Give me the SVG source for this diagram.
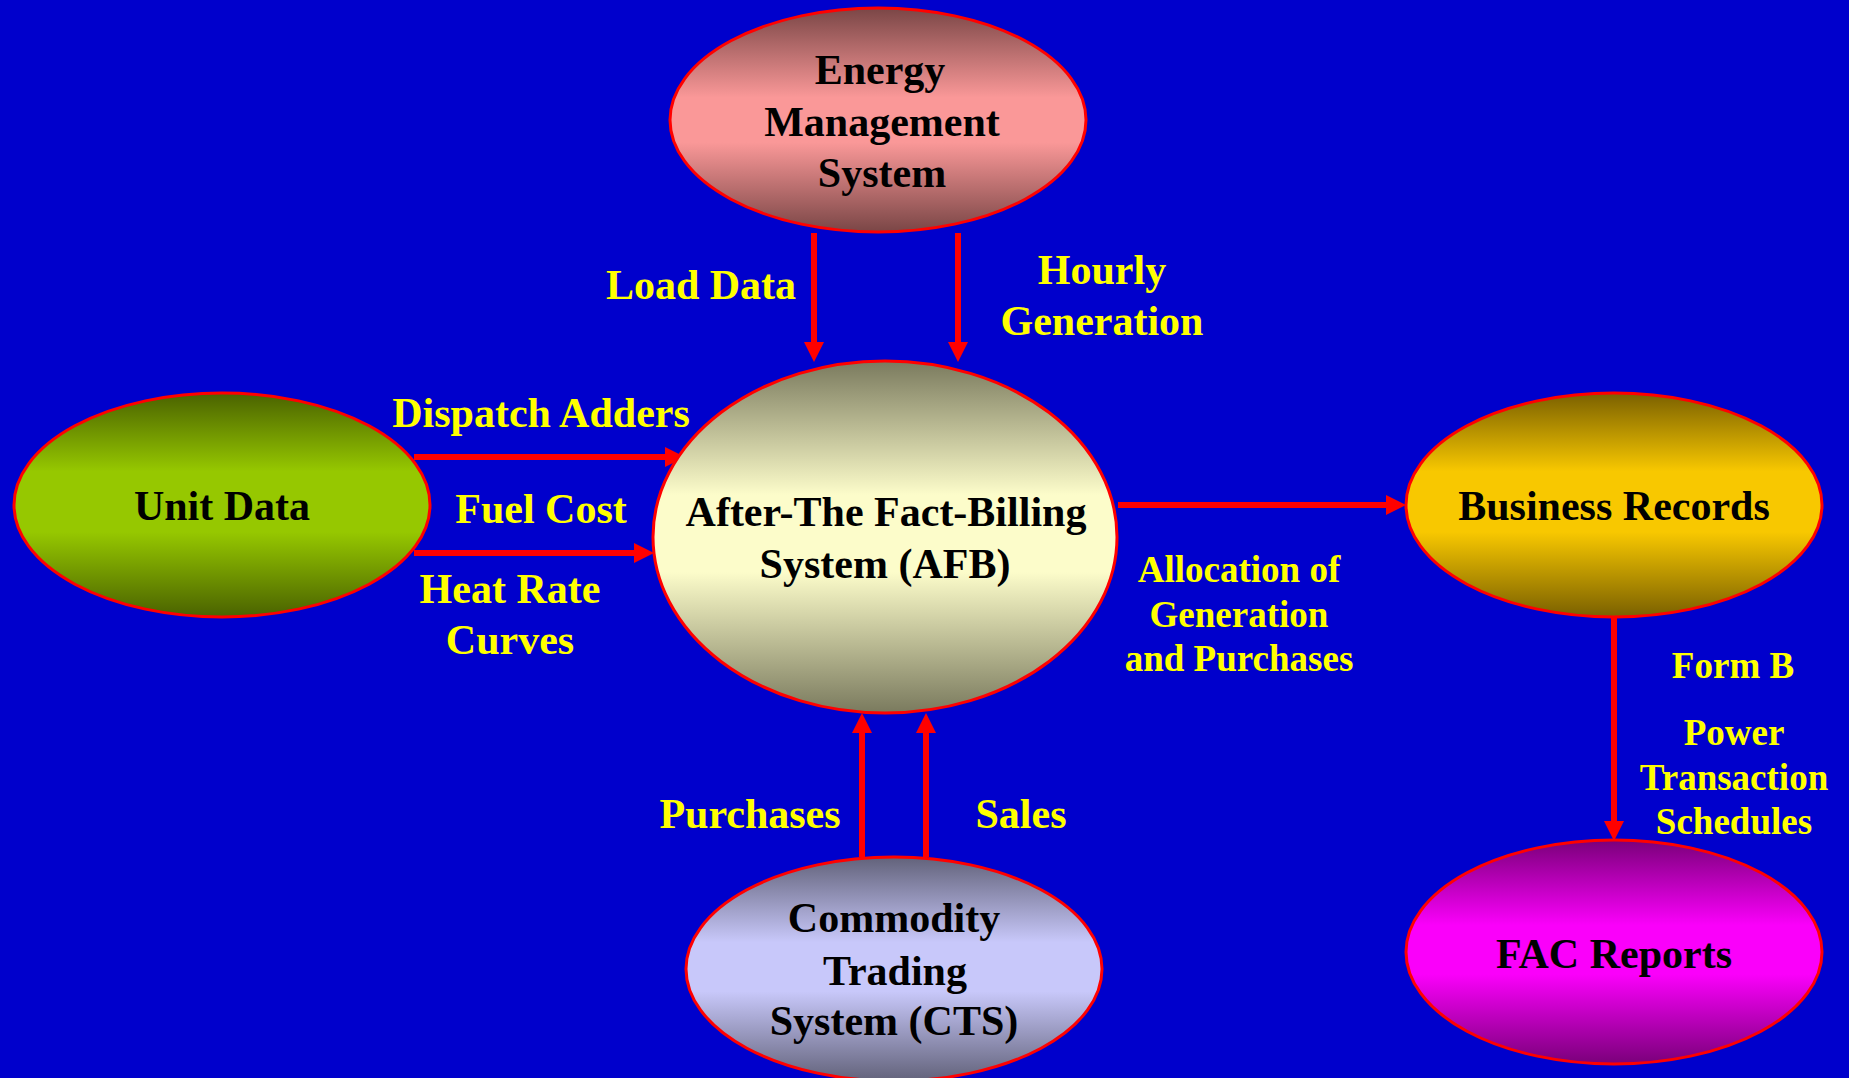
<svg xmlns="http://www.w3.org/2000/svg" width="1849" height="1078" viewBox="0 0 1849 1078">
  <style>
    .node { stroke: #ff0000; stroke-width: 3; }
    .ntext { font-family: "Liberation Serif", "Times New Roman", serif; font-weight: bold; font-size: 42px; fill: #000000; text-anchor: middle; }
    .label { font-family: "Liberation Serif", "Times New Roman", serif; font-weight: bold; font-size: 42px; fill: #ffff00; text-anchor: middle; }
    .small { font-size: 37px; }
    .flow { stroke: #ff0000; stroke-width: 6; fill: none; marker-end: url(#head); }
  </style>
  <defs>
    <marker id="head" markerUnits="userSpaceOnUse" markerWidth="20" markerHeight="20" refX="0" refY="10" orient="auto">
      <path d="M0,0 L20,10 L0,20 z" fill="#ff0000"/>
    </marker>
    <linearGradient id="gEms" x1="0" y1="0" x2="0" y2="1">
      <stop offset="0" stop-color="#7a4646"/>
      <stop offset="0.4" stop-color="#fa9898"/>
      <stop offset="0.6" stop-color="#fa9898"/>
      <stop offset="1" stop-color="#7a4646"/>
    </linearGradient>
    <linearGradient id="gUnit" x1="0" y1="0" x2="0" y2="1">
      <stop offset="0" stop-color="#4a6200"/>
      <stop offset="0.35" stop-color="#96c800"/>
      <stop offset="0.62" stop-color="#96c800"/>
      <stop offset="1" stop-color="#4a6200"/>
    </linearGradient>
    <linearGradient id="gAfb" x1="0" y1="0" x2="0" y2="1">
      <stop offset="0" stop-color="#7a7a5e"/>
      <stop offset="0.38" stop-color="#fcfcca"/>
      <stop offset="0.6" stop-color="#fcfcca"/>
      <stop offset="1" stop-color="#7a7a5e"/>
    </linearGradient>
    <linearGradient id="gBiz" x1="0" y1="0" x2="0" y2="1">
      <stop offset="0" stop-color="#7a6000"/>
      <stop offset="0.35" stop-color="#f8c800"/>
      <stop offset="0.62" stop-color="#f8c800"/>
      <stop offset="1" stop-color="#7a6000"/>
    </linearGradient>
    <linearGradient id="gCts" x1="0" y1="0" x2="0" y2="1">
      <stop offset="0" stop-color="#62627a"/>
      <stop offset="0.38" stop-color="#c8c8fa"/>
      <stop offset="0.6" stop-color="#c8c8fa"/>
      <stop offset="1" stop-color="#62627a"/>
    </linearGradient>
    <linearGradient id="gFac" x1="0" y1="0" x2="0" y2="1">
      <stop offset="0" stop-color="#7a007a"/>
      <stop offset="0.38" stop-color="#fa00fa"/>
      <stop offset="0.6" stop-color="#fa00fa"/>
      <stop offset="1" stop-color="#7a007a"/>
    </linearGradient>
  </defs>

  <rect width="1849" height="1078" fill="#0000cc"/>

  <!-- connectors -->
  <g id="connectors">
    <path class="flow" d="M814,233 L814,342"/>
    <path class="flow" d="M958,233 L958,342"/>
    <path class="flow" d="M414,457 L665,457"/>
    <path class="flow" d="M414,553 L634,553"/>
    <path class="flow" d="M862,857 L862,733"/>
    <path class="flow" d="M926,857 L926,733"/>
    <path class="flow" d="M1118,505 L1386,505"/>
    <path class="flow" d="M1614,617 L1614,821"/>
  </g>

  <!-- connector labels -->
  <g id="labels">
    <text class="label" x="701" y="299">Load Data</text>
    <text class="label" x="1102" y="284">Hourly</text>
    <text class="label" x="1102" y="335">Generation</text>
    <text class="label" x="541" y="427">Dispatch Adders</text>
    <text class="label" x="541" y="523">Fuel Cost</text>
    <text class="label" x="510" y="603">Heat Rate</text>
    <text class="label" x="510" y="654">Curves</text>
    <text class="label small" x="1239" y="582">Allocation of</text>
    <text class="label small" x="1239" y="627">Generation</text>
    <text class="label small" x="1239" y="671">and Purchases</text>
    <text class="label small" x="1733" y="678">Form B</text>
    <text class="label small" x="1734" y="745">Power</text>
    <text class="label small" x="1734" y="790">Transaction</text>
    <text class="label small" x="1734" y="834">Schedules</text>
    <text class="label" x="750" y="828">Purchases</text>
    <text class="label" x="1021" y="828">Sales</text>
  </g>

  <g id="ems">
    <ellipse class="node" cx="878" cy="120" rx="208" ry="112" fill="url(#gEms)"/>
    <text class="ntext" x="880" y="84">Energy</text>
    <text class="ntext" x="882" y="136">Management</text>
    <text class="ntext" x="882" y="187">System</text>
  </g>

  <g id="unit-data">
    <ellipse class="node" cx="222" cy="505" rx="208" ry="112" fill="url(#gUnit)"/>
    <text class="ntext" x="222" y="520">Unit Data</text>
  </g>

  <g id="afb">
    <ellipse class="node" cx="885" cy="537" rx="232" ry="176" fill="url(#gAfb)"/>
    <text class="ntext" x="886" y="526">After-The Fact-Billing</text>
    <text class="ntext" x="885" y="578">System (AFB)</text>
  </g>

  <g id="business-records">
    <ellipse class="node" cx="1614" cy="505" rx="208" ry="112" fill="url(#gBiz)"/>
    <text class="ntext" x="1614" y="520">Business Records</text>
  </g>

  <g id="cts">
    <ellipse class="node" cx="894" cy="969" rx="208" ry="112" fill="url(#gCts)"/>
    <text class="ntext" x="894" y="932">Commodity</text>
    <text class="ntext" x="895" y="985">Trading</text>
    <text class="ntext" x="894" y="1035">System (CTS)</text>
  </g>

  <g id="fac-reports">
    <ellipse class="node" cx="1614" cy="952" rx="208" ry="112" fill="url(#gFac)"/>
    <text class="ntext" x="1614" y="968">FAC Reports</text>
  </g>
</svg>
